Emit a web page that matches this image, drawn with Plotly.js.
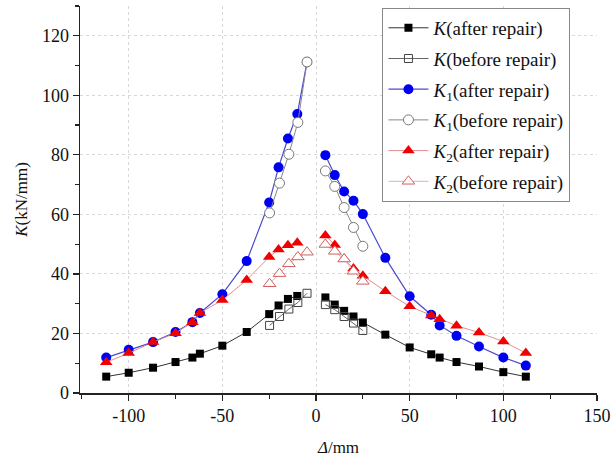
<!DOCTYPE html>
<html>
<head>
<meta charset="utf-8">
<script src="https://cdn.plot.ly/plotly-3.0.1.min.js"></script>
<style>html,body{margin:0;padding:0;background:#fff;}#chart{width:614px;height:464px;}</style>
</head>
<body>
<div id="chart"></div>
<script>
// Displacement (mm) and stiffness (kN/mm)
const xAfterLeft  = [-112, -100, -87, -75, -66, -62, -50, -37, -25, -20, -15, -10];
const xAfterRight = [5, 10, 15, 20, 25, 37, 50, 61.5, 66, 75, 87, 100, 112];
const xBeforeLeft  = [-24.8, -19.5, -14.5, -9.7, -4.8];
const xBeforeRight = [5, 10, 15, 20, 25];

const kAfterLeft  = [5.5, 6.8, 8.5, 10.4, 11.9, 13.2, 15.9, 20.5, 26.5, 29.4, 31.6, 32.6];
const kAfterRight = [32.1, 29.7, 27.6, 25.7, 23.7, 19.6, 15.3, 13.0, 11.9, 10.4, 8.9, 7.0, 5.5];
const kBeforeLeft  = [22.7, 25.7, 28.2, 30.4, 33.5];
const kBeforeRight = [29.7, 28.0, 25.7, 23.5, 21.0];

const xK1AfterLeft = [-112, -100, -87, -75, -66, -62, -50, -37, -25, -20, -15, -10, -4.8];
const k1AfterLeft  = [11.9, 14.5, 17.1, 20.5, 23.8, 26.9, 33.2, 44.3, 64.0, 75.8, 85.5, 93.7, 111.2];
const k1AfterRight = [79.9, 73.2, 67.7, 64.6, 60.1, 45.4, 32.5, 26.3, 22.7, 19.2, 15.6, 11.9, 9.2];
const k1BeforeLeft  = [60.5, 70.5, 80.2, 90.9, 111.2];
const k1BeforeRight = [74.6, 69.4, 62.3, 55.6, 49.3];

const k2AfterLeft  = [10.3, 13.4, 17.1, 20.1, 23.8, 26.9, 31.2, 38.0, 45.7, 48.2, 49.6, 50.5];
const k2AfterRight = [52.9, 49.7, 45.1, 41.8, 39.4, 34.2, 29.1, 26.0, 24.8, 22.6, 20.3, 17.3, 13.4];
const k2BeforeLeft  = [36.7, 40.1, 43.4, 45.7, 47.3];
const k2BeforeRight = [49.9, 47.6, 45.0, 40.9, 37.5];

const xTickVals = [-100, -50, 0, 50, 100, 150];
const xTickText = ['-100', '-50', '0', '50', '100', '150'];
const yTickVals = [0, 20, 40, 60, 80, 100, 120];

const seriesNames = [
  '<i>K</i>(after repair)',
  '<i>K</i>(before repair)',
  '<i>K</i><sub>1</sub>(after repair)',
  '<i>K</i><sub>1</sub>(before repair)',
  '<i>K</i><sub>2</sub>(after repair)',
  '<i>K</i><sub>2</sub>(before repair)'
];

function join(a, b) { return a.concat([null], b); }

const FONT = "'Liberation Serif', 'Times New Roman', serif";

const traces = [
  {x: join(xAfterLeft, xAfterRight), y: join(kAfterLeft, kAfterRight), name: seriesNames[0], legendgroup: 'a',
   mode: 'lines+markers', line: {color: '#333333', width: 1},
   marker: {symbol: 'square', size: 8, color: '#000000'}},
  {x: join(xBeforeLeft, xBeforeRight), y: join(kBeforeLeft, kBeforeRight), name: seriesNames[1], legendgroup: 'b',
   mode: 'lines+markers', line: {color: '#666666', width: 1},
   marker: {symbol: 'square-open', size: 8, color: '#444444', line: {width: 1}}},
  {x: join(xK1AfterLeft, xAfterRight), y: join(k1AfterLeft, k1AfterRight), name: seriesNames[2], legendgroup: 'c',
   mode: 'lines+markers', line: {color: '#4a4ad0', width: 1.2},
   marker: {symbol: 'circle', size: 10, color: '#0000f0'}},
  {x: join(xBeforeLeft, xBeforeRight), y: join(k1BeforeLeft, k1BeforeRight), name: seriesNames[3], legendgroup: 'd',
   mode: 'lines+markers', line: {color: '#888888', width: 1},
   marker: {symbol: 'circle', size: 10, color: '#ffffff', line: {color: '#777777', width: 1}}},
  {x: join(xAfterLeft, xAfterRight), y: join(k2AfterLeft, k2AfterRight), name: seriesNames[4], legendgroup: 'e',
   mode: 'lines+markers', line: {color: '#e09090', width: 1},
   marker: {symbol: 'triangle-up', size: 11, color: '#f00000'}},
  {x: join(xBeforeLeft, xBeforeRight), y: join(k2BeforeLeft, k2BeforeRight), name: seriesNames[5], legendgroup: 'f',
   mode: 'lines+markers', line: {color: '#e0b0b0', width: 1},
   marker: {symbol: 'triangle-up', size: 11, color: '#ffffff', line: {color: '#d06060', width: 1}}}
];

const layout = {
  width: 614, height: 464,
  margin: {l: 80, r: 17, t: 6, b: 71},
  paper_bgcolor: '#ffffff', plot_bgcolor: '#ffffff',
  font: {family: FONT, size: 18, color: '#111111'},
  showlegend: true,
  legend: {x: 0.585, y: 0.995, xanchor: 'left', yanchor: 'top',
           bgcolor: '#ffffff', bordercolor: '#888888', borderwidth: 1,
           font: {family: FONT, size: 19, color: '#111111'},
           traceorder: 'grouped', tracegroupgap: 3, itemwidth: 40},
  xaxis: {range: [-126, 150], tickvals: xTickVals, ticktext: xTickText,
          tickfont: {family: FONT, size: 18, color: '#111111'},
          ticks: 'outside', ticklen: 6, tickwidth: 1.2, tickcolor: '#222',
          showline: true, linecolor: '#222', linewidth: 1.5, mirror: false,
          showgrid: true, gridcolor: '#d8d8d8', griddash: 'dot', gridwidth: 1,
          zeroline: false,
          minor: {tickvals: [-125, -75, -25, 25, 75, 125], ticks: 'outside', ticklen: 4, tickcolor: '#222', showgrid: false},
          title: {text: '<i>Δ</i>/mm', font: {family: FONT, size: 17}, standoff: 16}},
  yaxis: {range: [0, 130], tickvals: yTickVals,
          tickfont: {family: FONT, size: 18, color: '#111111'},
          ticks: 'outside', ticklen: 6, tickwidth: 1.2, tickcolor: '#222',
          showline: true, linecolor: '#222', linewidth: 1.5, mirror: false,
          showgrid: true, gridcolor: '#d8d8d8', griddash: 'dot', gridwidth: 1,
          zeroline: false,
          minor: {tickvals: [10, 30, 50, 70, 90, 110, 130], ticks: 'outside', ticklen: 4, tickcolor: '#222', showgrid: false},
          title: {text: '<i>K</i>(kN/mm)', font: {family: FONT, size: 17}, standoff: 10}}
};

Plotly.newPlot('chart', traces, layout, {displayModeBar: false, staticPlot: true});
</script>
</body>
</html>
